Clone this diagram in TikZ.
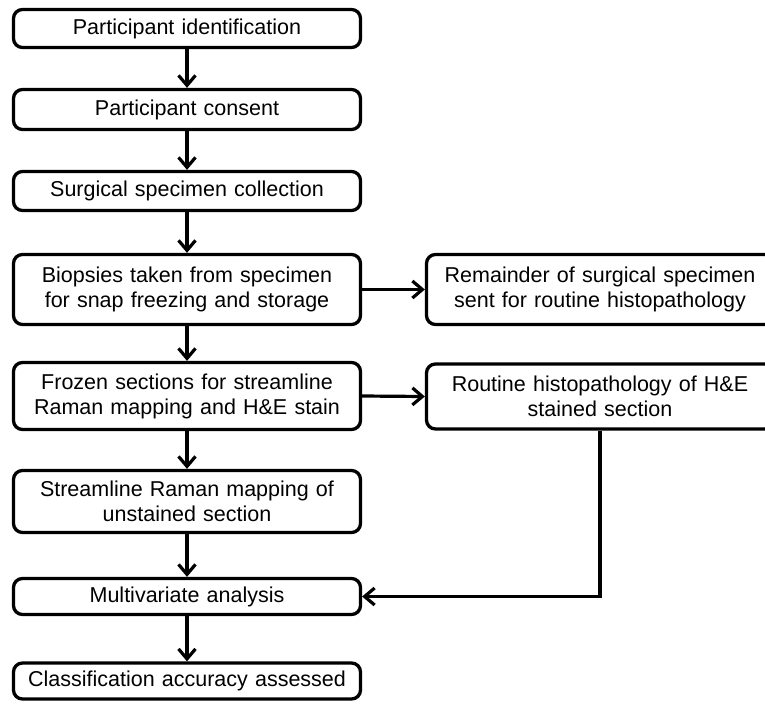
\documentclass[tikz,border=0pt]{standalone}
\usepackage{fontspec}
\setmainfont{Liberation Sans}
\usetikzlibrary{arrows.meta}
\begin{document}
\begin{tikzpicture}[x=1pt,y=-1pt,
  box/.style={draw=black, line width=3.3pt, rounded corners=9pt, fill=white,
    align=center, inner sep=0pt, text width=340pt,
    font=\fontsize{21.5pt}{25pt}\selectfont, minimum width=347pt},
  conn/.style={line width=3.2pt, -{Straight Barb[length=10pt,width=17pt,line width=3.2pt]}},
  plain/.style={line width=3.2pt}]
\useasboundingbox (0,0) rectangle (765,704);
\node[box, minimum height=38pt] (b1) at (187,28.5) {Participant identification};
\node[box, minimum height=40pt] (b2) at (187,109.5) {Participant consent};
\node[box, minimum height=39pt] (b3) at (187,191) {Surgical specimen collection};
\node[box, minimum height=70pt] (b4) at (187,289.5) {Biopsies taken from specimen\\for snap freezing and storage};
\node[box, minimum height=67pt] (b5) at (187,396) {Frozen sections for streamline\\Raman mapping and H\&E stain};
\node[box, minimum height=62pt] (b6) at (187,501.5) {Streamline Raman mapping of\\unstained section};
\node[box, minimum height=36pt] (b7) at (187,596.5) {Multivariate analysis};
\node[box, minimum height=36pt] (b8) at (187,681) {Classification accuracy assessed};
\node[box, minimum height=70pt] (r1) at (600,289.5) {Remainder of surgical specimen\\sent for routine histopathology};
\node[box, minimum height=65pt] (r2) at (600,396.5) {Routine histopathology of H\&E\\stained section};
\coordinate (corner) at (r2.south |- b7.east);
\draw[conn] (b1) -- (b2);
\draw[conn] (b2) -- (b3);
\draw[conn] (b3) -- (b4);
\draw[conn] (b4) -- (b5);
\draw[conn] (b5) -- (b6);
\draw[conn] (b6) -- (b7);
\draw[conn] (b7) -- (b8);
\draw[conn] (b4) -- (r1);
\draw[conn] (b5.east) -- (r2.west);
\draw[conn] (r2.south) -- (corner) -- (b7.east);
\end{tikzpicture}
\end{document}
